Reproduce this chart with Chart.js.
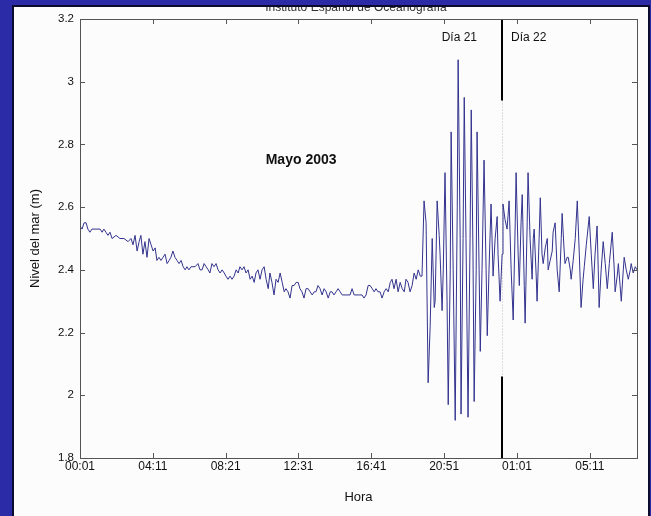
<!DOCTYPE html>
<html>
<head>
<meta charset="utf-8">
<script src="https://cdn.jsdelivr.net/npm/chart.js@4"></script>
<style>
  html, body { margin: 0; padding: 0; background: #2b2ba8; }
  canvas { display: block; }
</style>
</head>
<body>
<canvas id="tideChart" width="651" height="516"></canvas>
<script>
// minutes since 00:00 of day 21, and sea level in metres
const times = [
  1, 8, 15, 22, 28, 35, 42, 56, 70, 77, 83, 90, 97, 104, 111, 125, 138, 152, 166, 176,
  183, 190, 197, 204, 210, 217, 224, 231, 238, 245, 252, 259, 265, 272, 279, 286, 293, 300, 307, 313,
  320, 327, 334, 341, 348, 355, 362, 368, 375, 382, 396, 406, 413, 420, 427, 434, 441, 447, 454, 461,
  468, 475, 482, 489, 496, 502, 509, 516, 523, 530, 537, 544, 550, 557, 564, 571, 578, 585, 592, 599,
  605, 612, 619, 626, 633, 640, 647, 653, 660, 667, 674, 681, 688, 695, 702, 708, 715, 722, 729, 736,
  743, 750, 756, 763, 770, 777, 784, 791, 798, 805, 811, 818, 825, 832, 839, 846, 853, 860, 866, 873,
  880, 887, 894, 901, 914, 928, 935, 942, 956, 969, 976, 983, 990, 997, 1004, 1011, 1017, 1024, 1031, 1038,
  1045, 1052, 1059, 1066, 1072, 1079, 1086, 1093, 1100, 1107, 1114, 1120, 1127, 1134, 1141, 1148, 1155, 1162, 1169, 1175,
  1182, 1189, 1196, 1203, 1210, 1217, 1220, 1227, 1234, 1237, 1244, 1248, 1254, 1261, 1265, 1272, 1275, 1282, 1289, 1296,
  1299, 1306, 1309, 1316, 1320, 1326, 1333, 1340, 1344, 1350, 1354, 1361, 1364, 1371, 1375, 1381, 1388, 1395, 1399, 1405,
  1412, 1419, 1426, 1433, 1436, 1443, 1450, 1453, 1460, 1467, 1474, 1481, 1488, 1495, 1498, 1505, 1509, 1515, 1519, 1526,
  1529, 1536, 1539, 1546, 1553, 1557, 1560, 1567, 1570, 1577, 1581, 1587, 1591, 1598, 1605, 1608, 1615, 1622, 1625, 1632,
  1639, 1646, 1653, 1656, 1663, 1666, 1673, 1677, 1684, 1687, 1694, 1701, 1708, 1715, 1721, 1728, 1732, 1739, 1749, 1756,
  1763, 1769, 1776, 1780, 1783, 1790, 1797, 1804, 1811, 1818, 1828, 1835, 1838, 1845, 1849, 1855, 1859, 1866, 1869, 1876,
  1883, 1890, 1893, 1900, 1907, 1913
];
const levels = [
  2.54, 2.53, 2.55, 2.55, 2.53, 2.52, 2.53, 2.53, 2.53, 2.52, 2.53, 2.52, 2.51, 2.52, 2.50, 2.51, 2.50, 2.50, 2.49, 2.50,
  2.48, 2.51, 2.46, 2.49, 2.51, 2.45, 2.49, 2.44, 2.50, 2.48, 2.46, 2.47, 2.43, 2.44, 2.43, 2.44, 2.45, 2.42, 2.43, 2.44,
  2.46, 2.44, 2.43, 2.42, 2.43, 2.41, 2.40, 2.41, 2.40, 2.41, 2.41, 2.42, 2.40, 2.40, 2.42, 2.41, 2.40, 2.39, 2.42, 2.41,
  2.42, 2.40, 2.39, 2.40, 2.39, 2.38, 2.37, 2.38, 2.37, 2.38, 2.40, 2.39, 2.41, 2.40, 2.41, 2.39, 2.40, 2.37, 2.38, 2.36,
  2.39, 2.40, 2.37, 2.40, 2.41, 2.37, 2.34, 2.39, 2.36, 2.32, 2.37, 2.36, 2.39, 2.36, 2.33, 2.34, 2.33, 2.31, 2.35, 2.35,
  2.36, 2.36, 2.34, 2.33, 2.31, 2.34, 2.34, 2.33, 2.32, 2.33, 2.33, 2.35, 2.34, 2.32, 2.34, 2.33, 2.31, 2.33, 2.33, 2.32,
  2.33, 2.34, 2.33, 2.32, 2.32, 2.32, 2.34, 2.32, 2.32, 2.32, 2.31, 2.32, 2.35, 2.35, 2.34, 2.33, 2.34, 2.33, 2.33, 2.31,
  2.33, 2.34, 2.33, 2.36, 2.37, 2.34, 2.37, 2.33, 2.36, 2.34, 2.33, 2.37, 2.36, 2.33, 2.35, 2.39, 2.37, 2.40, 2.38, 2.38,
  2.62, 2.55, 2.04, 2.22, 2.50, 2.28, 2.30, 2.62, 2.51, 2.45, 2.27, 2.40, 2.71, 2.30, 1.97, 2.40, 2.84, 2.40, 1.92, 2.60,
  3.07, 2.50, 1.94, 2.50, 2.95, 2.50, 1.93, 2.50, 2.91, 2.45, 1.98, 2.40, 2.84, 2.40, 2.14, 2.40, 2.75, 2.40, 2.19, 2.40,
  2.61, 2.38, 2.50, 2.57, 2.45, 2.30, 2.45, 2.61, 2.56, 2.53, 2.62, 2.40, 2.24, 2.55, 2.71, 2.45, 2.35, 2.55, 2.64, 2.35,
  2.23, 2.55, 2.71, 2.50, 2.37, 2.50, 2.53, 2.38, 2.30, 2.50, 2.63, 2.45, 2.42, 2.47, 2.50, 2.40, 2.43, 2.46, 2.52, 2.55,
  2.40, 2.33, 2.50, 2.58, 2.46, 2.42, 2.44, 2.44, 2.40, 2.37, 2.43, 2.50, 2.62, 2.45, 2.28, 2.37, 2.41, 2.48, 2.57, 2.45,
  2.34, 2.45, 2.54, 2.40, 2.28, 2.40, 2.49, 2.42, 2.34, 2.42, 2.52, 2.40, 2.33, 2.38, 2.42, 2.35, 2.30, 2.40, 2.44, 2.40,
  2.37, 2.40, 2.42, 2.39, 2.41, 2.40
];

const xTickValues = [1, 251, 501, 751, 1001, 1251, 1501, 1751];
const xTickLabels = ["00:01", "04:11", "08:21", "12:31", "16:41", "20:51", "01:01", "05:11"];
const yTickValues = [1.8, 2, 2.2, 2.4, 2.6, 2.8, 3, 3.2];
const yTickLabels = ["1.8", "2", "2.2", "2.4", "2.6", "2.8", "3", "3.2"];

const dayBoundary = 1448;     // change of day, minute
const gapTop = 2.94;          // where the solid day line turns dotted
const gapBottom = 2.06;

const FONT = "'Liberation Sans', Arial, sans-serif";

const backdrop = {
  id: "backdrop",
  beforeDraw(chart) {
    const ctx = chart.ctx;
    ctx.save();
    ctx.fillStyle = "#2b2ba8";
    ctx.fillRect(0, 0, chart.width, chart.height);
    ctx.fillStyle = "#fcfcfc";
    ctx.fillRect(14, 7, 634, 509);
    ctx.strokeStyle = "#0b0b2e";
    ctx.lineWidth = 2;
    ctx.strokeRect(13, 6, 636, 512);

    // page title, cut off by the top of the panel
    ctx.beginPath();
    ctx.rect(14, 7, 634, 20);
    ctx.clip();
    ctx.fillStyle = "#333";
    ctx.font = "12px " + FONT;
    ctx.textAlign = "center";
    ctx.textBaseline = "alphabetic";
    ctx.fillText("Instituto Español de Oceanografía", 356, 11);
    ctx.restore();
  },
  beforeDatasetsDraw(chart) {
    const { ctx, scales: { x, y } } = chart;
    const px = Math.round(x.getPixelForValue(dayBoundary)) + 0.5;
    ctx.save();
    ctx.strokeStyle = "#bbb";
    ctx.lineWidth = 1;
    ctx.setLineDash([1, 2]);
    ctx.beginPath();
    ctx.moveTo(px, y.getPixelForValue(gapTop));
    ctx.lineTo(px, y.getPixelForValue(gapBottom));
    ctx.stroke();
    ctx.restore();
  },
  afterDatasetsDraw(chart) {
    const { ctx, chartArea: a, scales: { x, y } } = chart;
    ctx.save();

    // day change line
    const px = Math.round(x.getPixelForValue(dayBoundary));
    ctx.strokeStyle = "#000";
    ctx.lineWidth = 2;
    ctx.beginPath();
    ctx.moveTo(px, a.top);
    ctx.lineTo(px, y.getPixelForValue(gapTop));
    ctx.moveTo(px, y.getPixelForValue(gapBottom));
    ctx.lineTo(px, a.bottom);
    ctx.stroke();

    // axes box with inward ticks, matlab style
    ctx.strokeStyle = "#555";
    ctx.lineWidth = 1;
    ctx.strokeRect(Math.round(a.left) + 0.5, Math.round(a.top) + 0.5,
      Math.round(a.right - a.left), Math.round(a.bottom - a.top));
    ctx.beginPath();
    x.ticks.forEach(t => {
      const p = Math.round(x.getPixelForValue(t.value)) + 0.5;
      ctx.moveTo(p, a.bottom); ctx.lineTo(p, a.bottom - 5);
      ctx.moveTo(p, a.top); ctx.lineTo(p, a.top + 5);
    });
    y.ticks.forEach(t => {
      const p = Math.round(y.getPixelForValue(t.value)) + 0.5;
      ctx.moveTo(a.left, p); ctx.lineTo(a.left + 5, p);
      ctx.moveTo(a.right, p); ctx.lineTo(a.right - 5, p);
    });
    ctx.stroke();

    // text notes
    ctx.fillStyle = "#111";
    ctx.textBaseline = "middle";
    ctx.font = "12px " + FONT;
    ctx.textAlign = "right";
    ctx.fillText("Día 21", px - 25, 38);
    ctx.textAlign = "left";
    ctx.fillText("Día 22", px + 9, 38);
    ctx.font = "bold 14px " + FONT;
    ctx.textAlign = "center";
    ctx.fillText("Mayo 2003", x.getPixelForValue(760), y.getPixelForValue(2.75));
    ctx.restore();
  }
};

const ctx = document.getElementById("tideChart").getContext("2d");
new Chart(ctx, {
  type: "line",
  data: {
    datasets: [{
      data: times.map((t, i) => ({ x: t, y: levels[i] })),
      borderColor: "#33338f",
      borderWidth: 1,
      pointRadius: 0,
      tension: 0,
      fill: false
    }]
  },
  options: {
    responsive: false,
    animation: false,
    layout: { padding: { left: 28, right: 14, top: 19, bottom: 11 } },
    plugins: { legend: { display: false }, tooltip: { enabled: false } },
    scales: {
      x: {
        type: "linear",
        min: 1,
        max: 1913,
        grid: { display: false, drawTicks: false },
        border: { display: false },
        afterBuildTicks: s => { s.ticks = xTickValues.map(v => ({ value: v })); },
        afterFit: s => { s.height = 47; },
        ticks: {
          autoSkip: false,
          maxRotation: 0,
          padding: 1,
          color: "#111",
          font: { family: FONT, size: 12 },
          callback: (v, i) => xTickLabels[i]
        },
        title: {
          display: true,
          text: "Hora",
          color: "#111",
          padding: 0,
          font: { family: FONT, size: 13 }
        }
      },
      y: {
        min: 1.8,
        max: 3.2,
        grid: { display: false, drawTicks: false },
        border: { display: false },
        afterBuildTicks: s => { s.ticks = yTickValues.map(v => ({ value: v })); },
        afterFit: s => { s.width = 52; },
        ticks: {
          padding: 6,
          color: "#111",
          font: { family: FONT, size: 11.5 },
          callback: (v, i) => yTickLabels[i]
        },
        title: {
          display: true,
          text: "Nivel del mar (m)",
          color: "#111",
          padding: 0,
          font: { family: FONT, size: 13 }
        }
      }
    }
  },
  plugins: [backdrop]
});
</script>
</body>
</html>
